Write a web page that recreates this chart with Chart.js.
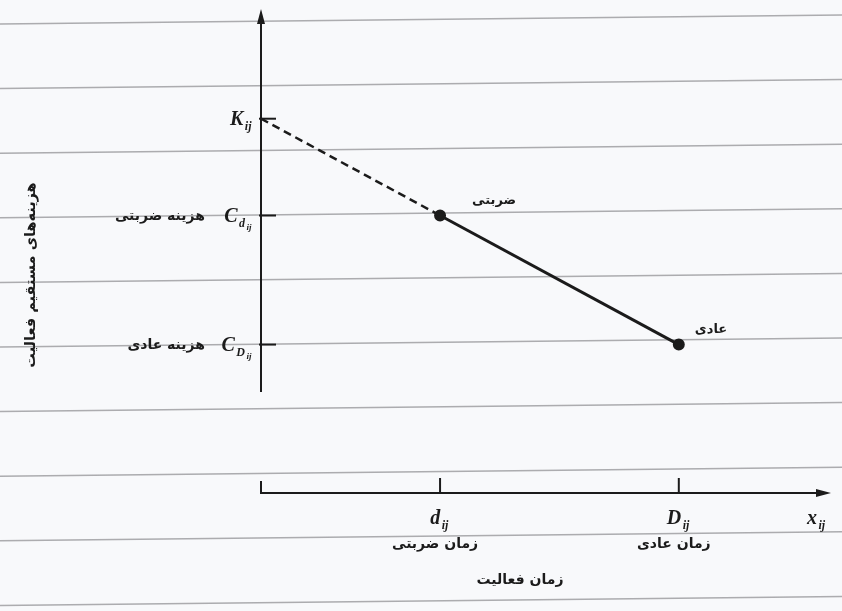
<!DOCTYPE html>
<html>
<head>
<meta charset="utf-8">
<script src="https://cdn.jsdelivr.net/npm/chart.js@4"></script>
<style>
  html, body { margin: 0; padding: 0; background: #f8f9fb; }
  #wrap { width: 842px; height: 611px; }
</style>
</head>
<body>
<div id="wrap"><canvas id="costChart" width="842" height="611"></canvas></div>
<script>
// activity time vs. direct cost (arbitrary units)
const timePoints = [0, 3, 7];      // origin, crash time d_ij, normal time D_ij
const costPoints = [5.5, 4, 2];    // K_ij, C_dij, C_Dij
const xTickValues = [3, 7];
const xTickSymbols = [['d', 'ij'], ['D', 'ij']];
const xTickNames = ['زمان ضربتی', 'زمان عادی'];
const yTickValues = [5.5, 4, 2];
const yTickSymbols = [['K', 'ij'], ['C', 'd', 'ij'], ['C', 'D', 'ij']];
const yTickNames = ['', 'هزینه ضربتی', 'هزینه عادی'];
const pointNames = ['ضربتی', 'عادی'];
const xVarSymbol = ['x', 'ij'];
const xAxisTitle = 'زمان فعالیت';
const yAxisTitle = 'هزینه‌های مستقیم فعالیت';

const ink = '#1b1b1b';
const faFont = 'bold 14px "DejaVu Sans"';

// italic symbol with one or two levels of subscript
function symbolParts(parts) {
  const sizes = [20, 12, 9];
  const drops = [0, 5, 8];
  return parts.map((t, i) => ({ t, font: 'italic bold ' + sizes[i] + 'px "Liberation Serif"', dy: drops[i] }));
}
function drawSymbol(ctx, parts, x, y, align) {
  const ps = symbolParts(parts);
  let w = 0;
  ps.forEach(p => { ctx.font = p.font; p.w = ctx.measureText(p.t).width + 1.5; w += p.w; });
  let cx = align === 'right' ? x - w : align === 'center' ? x - w / 2 : x;
  ctx.textAlign = 'left';
  ctx.textBaseline = 'alphabetic';
  ps.forEach(p => { ctx.font = p.font; ctx.fillText(p.t, cx, y + p.dy); cx += p.w; });
}

const paper = {
  id: 'paper',
  beforeDraw(chart) {
    const { ctx, width, height } = chart;
    ctx.save();
    ctx.fillStyle = '#f8f9fb';
    ctx.fillRect(0, 0, width, height);
    ctx.strokeStyle = 'rgba(95,95,100,0.5)';
    ctx.lineWidth = 1.5;
    for (let y = 24; y < height + 20; y += 64.6) {
      ctx.beginPath();
      ctx.moveTo(0, y);
      ctx.lineTo(width, y - 9);
      ctx.stroke();
    }
    ctx.restore();
  }
};

const axes = {
  id: 'axes',
  beforeDatasetsDraw(chart) {
    const { ctx, chartArea: a, scales: { x, y } } = chart;
    ctx.save();
    ctx.strokeStyle = ink;
    ctx.fillStyle = ink;
    ctx.lineWidth = 2;
    // vertical cost axis with arrow head
    const yBottom = a.bottom - 101;
    ctx.beginPath();
    ctx.moveTo(a.left, yBottom);
    ctx.lineTo(a.left, a.top + 8);
    ctx.stroke();
    ctx.beginPath();
    ctx.moveTo(a.left, a.top);
    ctx.lineTo(a.left - 4, a.top + 15);
    ctx.lineTo(a.left + 4, a.top + 15);
    ctx.closePath();
    ctx.fill();
    yTickValues.forEach(v => {
      const py = y.getPixelForValue(v);
      ctx.beginPath();
      ctx.moveTo(a.left - 2, py);
      ctx.lineTo(a.left + 15, py);
      ctx.stroke();
    });
    // horizontal time axis
    ctx.beginPath();
    ctx.moveTo(a.left, a.bottom - 12);
    ctx.lineTo(a.left, a.bottom);
    ctx.lineTo(a.right - 8, a.bottom);
    ctx.stroke();
    ctx.beginPath();
    ctx.moveTo(a.right, a.bottom);
    ctx.lineTo(a.right - 15, a.bottom - 4);
    ctx.lineTo(a.right - 15, a.bottom + 4);
    ctx.closePath();
    ctx.fill();
    xTickValues.forEach(v => {
      const px = x.getPixelForValue(v);
      ctx.beginPath();
      ctx.moveTo(px, a.bottom);
      ctx.lineTo(px, a.bottom - 15);
      ctx.stroke();
    });
    ctx.restore();
  },
  afterDatasetsDraw(chart) {
    const { ctx, chartArea: a, scales: { x, y } } = chart;
    ctx.save();
    ctx.fillStyle = ink;
    // cost tick labels
    yTickValues.forEach((v, i) => {
      const py = y.getPixelForValue(v);
      drawSymbol(ctx, yTickSymbols[i], a.left - 8, py + 6, 'right');
      if (yTickNames[i]) {
        ctx.font = faFont;
        ctx.textAlign = 'right';
        ctx.textBaseline = 'middle';
        ctx.fillText(yTickNames[i], a.left - 56, py + 1);
      }
    });
    // time tick labels
    xTickValues.forEach((v, i) => {
      const px = x.getPixelForValue(v);
      drawSymbol(ctx, xTickSymbols[i], px, a.bottom + 31, 'center');
      ctx.font = faFont;
      ctx.textAlign = 'center';
      ctx.textBaseline = 'middle';
      ctx.fillText(xTickNames[i], px - 5, a.bottom + 51);
    });
    drawSymbol(ctx, xVarSymbol, a.right - 24, a.bottom + 31, 'left');
    // point labels
    ctx.font = 'bold 13px "DejaVu Sans"';
    ctx.textAlign = 'left';
    ctx.textBaseline = 'middle';
    ctx.fillText(pointNames[0], x.getPixelForValue(timePoints[1]) + 32, y.getPixelForValue(costPoints[1]) - 15);
    ctx.fillText(pointNames[1], x.getPixelForValue(timePoints[2]) + 16, y.getPixelForValue(costPoints[2]) - 15);
    // axis titles
    ctx.font = faFont;
    ctx.textAlign = 'center';
    ctx.fillText(xAxisTitle, 520, a.bottom + 87);
    ctx.translate(31, 275);
    ctx.rotate(-Math.PI / 2);
    ctx.font = 'bold 14.5px "DejaVu Sans"';
    ctx.fillText(yAxisTitle, 0, 0);
    ctx.restore();
  }
};

new Chart(document.getElementById('costChart'), {
  type: 'line',
  data: {
    datasets: [
      {
        // extension from crash point back to the cost axis
        data: [{ x: timePoints[0], y: costPoints[0] }, { x: timePoints[1], y: costPoints[1] }],
        borderColor: ink,
        borderWidth: 2.5,
        borderDash: [8, 5],
        pointRadius: 0
      },
      {
        data: [{ x: timePoints[1], y: costPoints[1] }, { x: timePoints[2], y: costPoints[2] }],
        borderColor: ink,
        borderWidth: 3,
        pointRadius: 4.5,
        pointBackgroundColor: ink,
        pointBorderColor: ink
      }
    ]
  },
  options: {
    responsive: false,
    animation: false,
    clip: false,
    layout: { padding: { left: 261, right: 11, top: 9, bottom: 118 } },
    scales: {
      x: { type: 'linear', min: 0, max: 9.55, display: false },
      y: { type: 'linear', min: -0.3, max: 7.2, display: false }
    },
    plugins: { legend: { display: false }, tooltip: { enabled: false } }
  },
  plugins: [paper, axes]
});
</script>
</body>
</html>
